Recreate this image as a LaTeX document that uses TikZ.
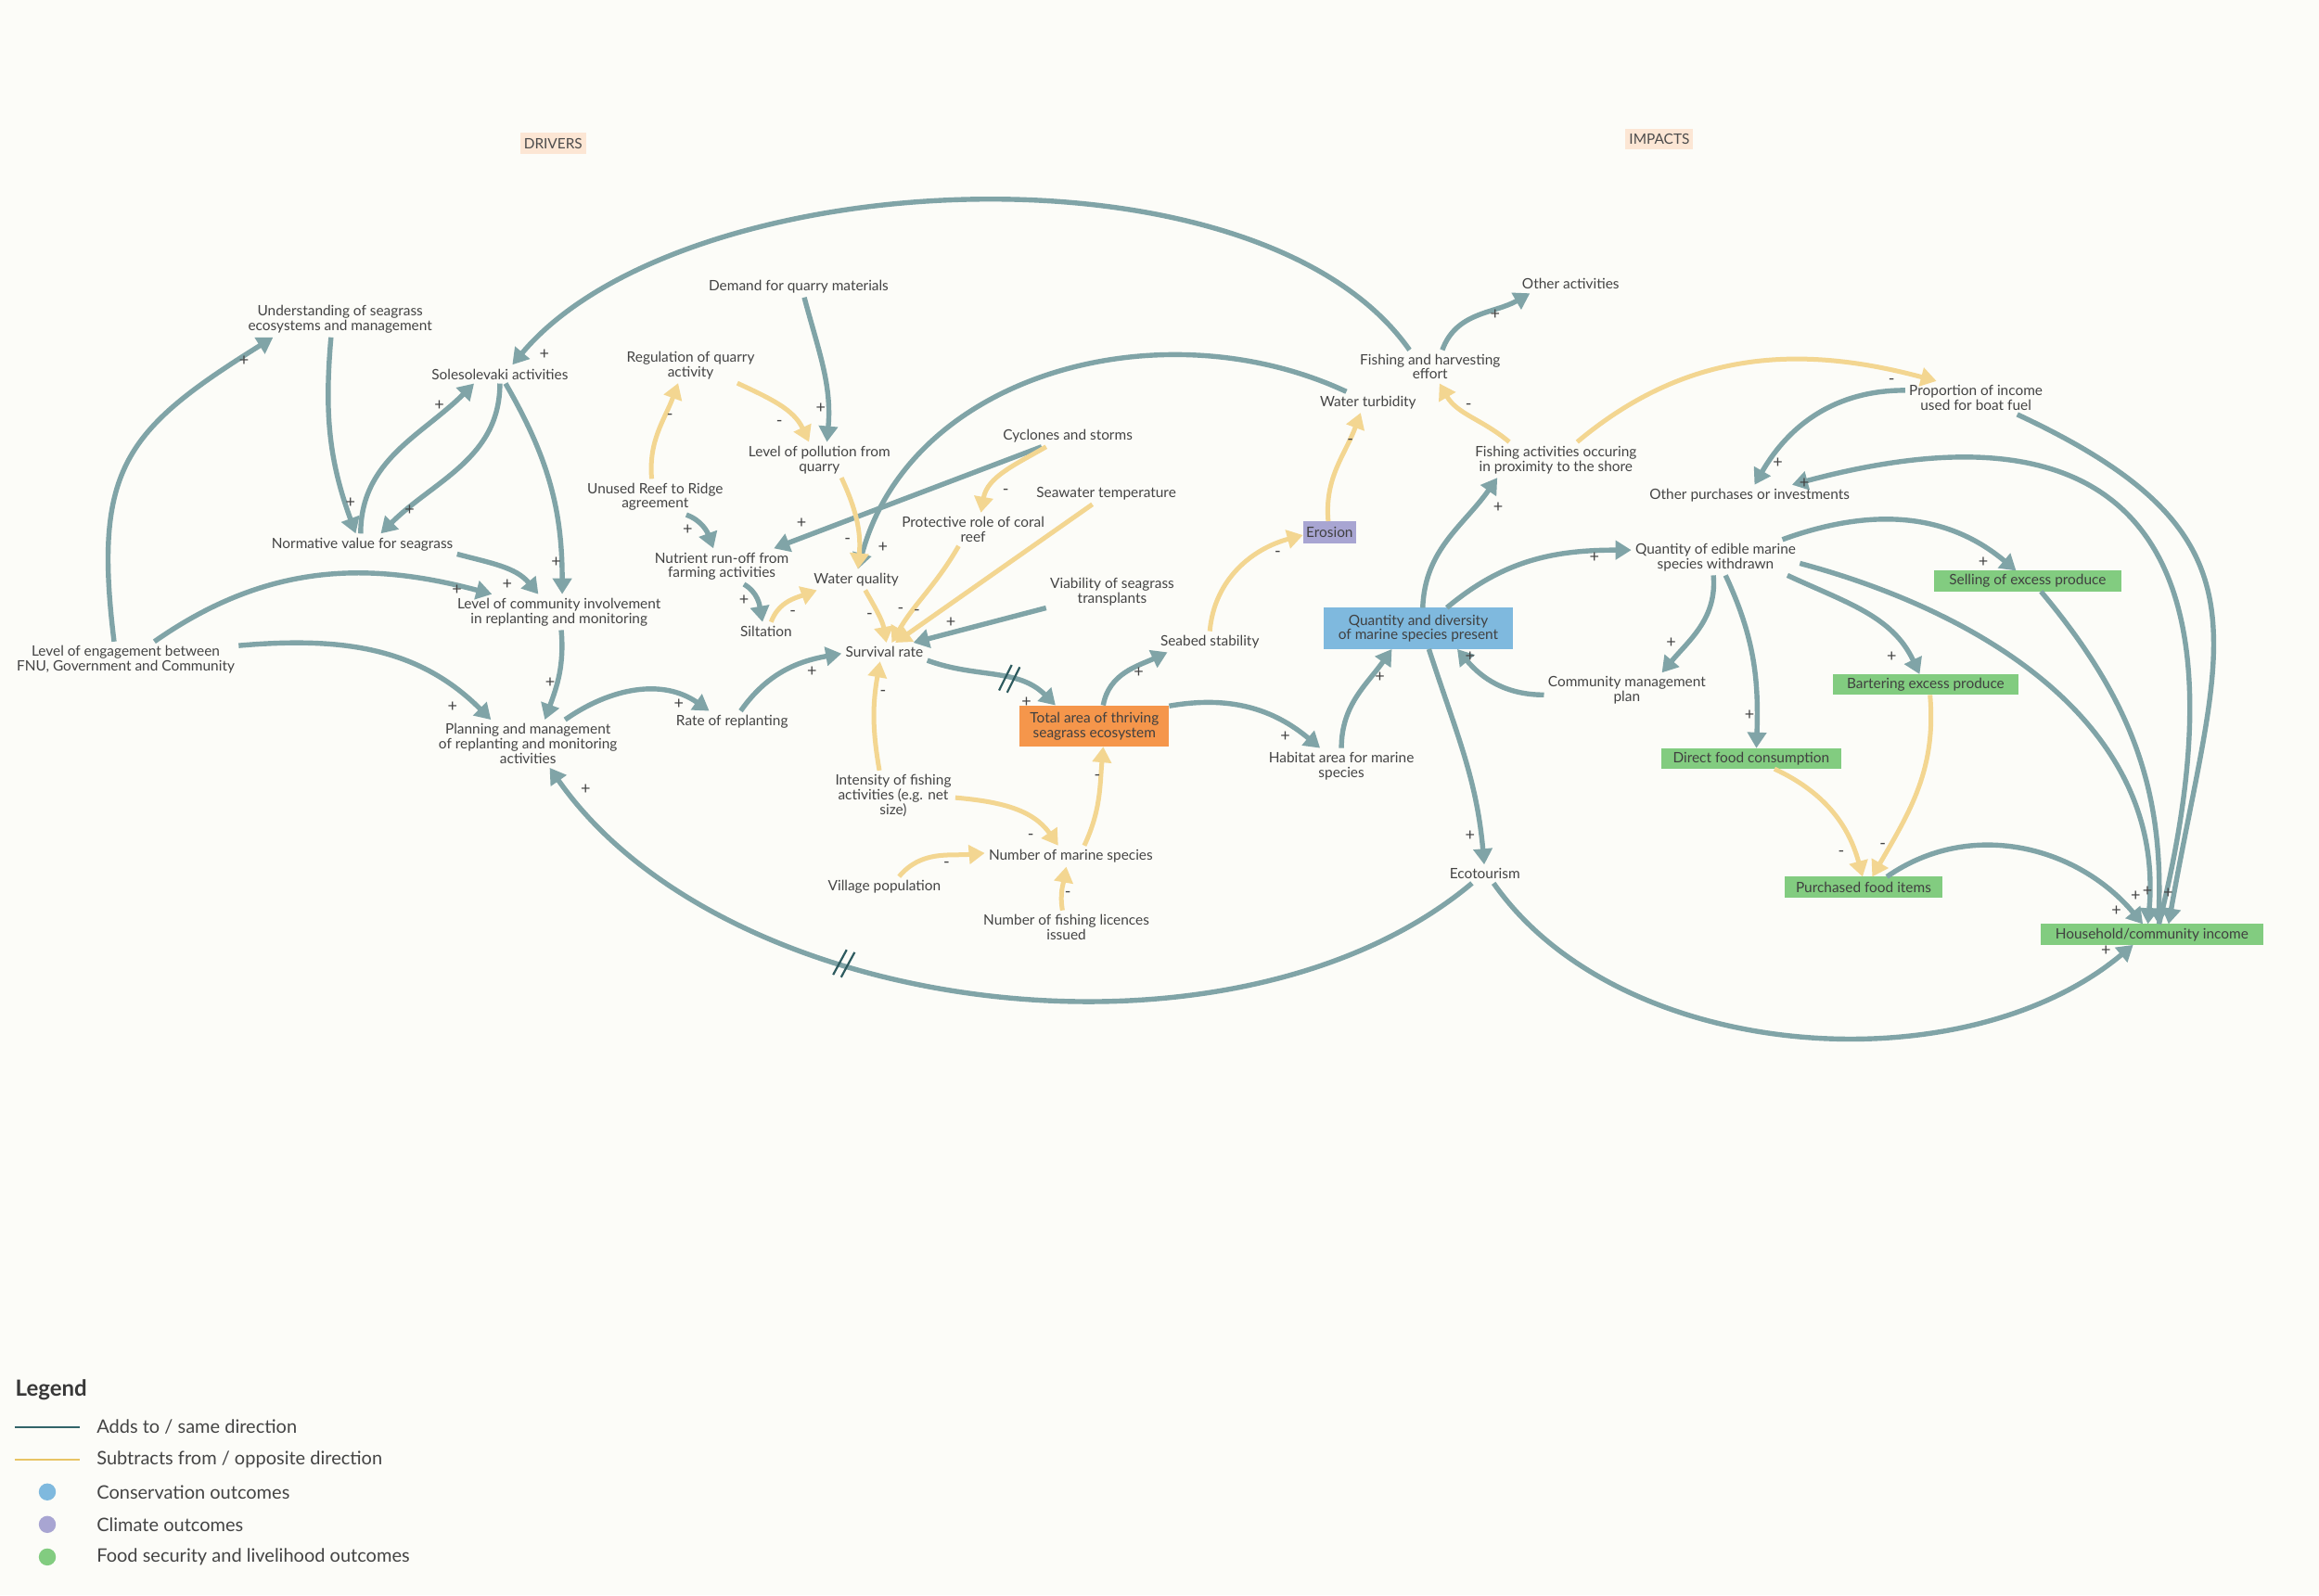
\documentclass[tikz,border=0pt]{standalone}
\usepackage{fontspec}
\setmainfont{Lato}
\usetikzlibrary{arrows.meta, decorations.markings}

\definecolor{bgcream}{RGB}{252,252,248}
\definecolor{linkteal}{RGB}{128,164,167}
\definecolor{linkyellow}{RGB}{243,214,145}
\definecolor{delayteal}{RGB}{45,90,94}
\definecolor{txtgray}{RGB}{68,68,68}
\definecolor{consblue}{RGB}{127,185,222}
\definecolor{climpurple}{RGB}{168,165,210}
\definecolor{seagrassorange}{RGB}{245,150,75}
\definecolor{foodgreen}{RGB}{130,204,128}
\definecolor{tagpeach}{RGB}{252,230,212}
\definecolor{legteal}{RGB}{50,100,105}
\definecolor{legyellow}{RGB}{232,196,100}

\begin{document}
\begin{tikzpicture}[
		x=0.797pt, y=0.797pt,
		font=\fontsize{7.7}{7.9}\selectfont,
		% Style for the plain variables of the loop diagram
		var/.style={align=center, text=txtgray, inner sep=2pt},
		% Styles for the coloured outcome boxes
		boxed/.style={align=center, text=black!75, inner sep=0pt, outer sep=0pt},
		seagrass/.style={boxed, fill=seagrassorange, minimum width=80.5pt, minimum height=22.3pt},
		conservation/.style={boxed, fill=consblue, minimum width=102pt, minimum height=22.3pt},
		climate/.style={boxed, fill=climpurple, minimum width=28.7pt, minimum height=12pt},
		food/.style={boxed, fill=foodgreen, minimum height=11.2pt},
		tag/.style={boxed, fill=tagpeach, text=black!70, minimum height=11.2pt, inner xsep=2pt},
		% Styles for the links
		addlink/.style={draw=linkteal, line width=2.7pt, -{Triangle[length=8.5pt,width=10pt]}},
		sublink/.style={draw=linkyellow, line width=2.5pt, -{Triangle[length=8.5pt,width=10pt]}},
		delay/.style={postaction={decorate, decoration={markings, mark=at position #1 with {
			\draw[-, delayteal, line width=1.1pt] (-3pt,-7.5pt) -- (0pt,7.5pt) (1.5pt,-7.5pt) -- (4.5pt,7.5pt);}}}},
		sgn/.style={text=txtgray, font=\fontsize{9}{9}\selectfont, inner sep=0pt},
		legtext/.style={anchor=west, text=txtgray, font=\fontsize{10}{10}\selectfont}
		]
		
		\path[use as bounding box, fill=bgcream] (0,0) rectangle (1568,-1079);
		
		% --- 1. DRIVERS ---
		\node[tag] (drivers) at (374,-97) {DRIVERS};
		\node[var] (und) at (230,-216) {Understanding of seagrass\\ecosystems and management};
		\node[var] (sole) at (338,-253) {Solesolevaki activities};
		\node[var] (norm) at (245,-368) {Normative value for seagrass};
		\node[var] (inv) at (378,-414) {Level of community involvement\\in replanting and monitoring};
		\node[var] (eng) at (85,-446) {Level of engagement between\\FNU, Government and Community};
		\node[var] (plan) at (357,-503) {Planning and management\\of replanting and monitoring\\activities};
		\node[var] (rate) at (495,-488) {Rate of replanting};
		\node[var] (reg) at (467,-247) {Regulation of quarry\\activity};
		\node[var] (dem) at (540,-194) {Demand for quarry materials};
		\node[var] (poll) at (554,-311) {Level of pollution from\\quarry};
		\node[var] (unused) at (443,-336) {Unused Reef to Ridge\\agreement};
		\node[var] (nut) at (488,-383) {Nutrient run-off from\\farming activities};
		\node[var] (silt) at (518,-427) {Siltation};
		\node[var] (wq) at (579,-392) {Water quality};
		\node[var] (surv) at (598,-441) {Survival rate};
		\node[var] (cyc) at (722,-295) {Cyclones and storms};
		\node[var] (prot) at (658,-358) {Protective role of coral\\reef};
		\node[var] (sea) at (748,-334) {Seawater temperature};
		\node[var] (via) at (752,-400) {Viability of seagrass\\transplants};
		\node[var] (intens) at (604,-538) {Intensity of fishing\\activities (e.g. net\\size)};
		\node[var] (nms) at (724,-579) {Number of marine species};
		\node[var] (vill) at (598,-600) {Village population};
		\node[var] (lic) at (721,-627) {Number of fishing licences\\issued};
		\node[seagrass] (total) at (740,-491) {Total area of thriving\\seagrass ecosystem};
		
		% --- 2. IMPACTS ---
		\node[tag] (impacts) at (1122,-94) {IMPACTS};
		\node[var] (seabed) at (818,-434) {Seabed stability};
		\node[climate] (eros) at (899,-360) {Erosion};
		\node[var] (turb) at (925,-272) {Water turbidity};
		\node[var] (effort) at (967,-248) {Fishing and harvesting\\effort};
		\node[var] (other) at (1062,-192) {Other activities};
		\node[var] (shore) at (1052,-311) {Fishing activities occuring\\in proximity to the shore};
		\node[conservation] (qdiv) at (959,-425) {Quantity and diversity\\of marine species present};
		\node[var] (hab) at (907,-518) {Habitat area for marine\\species};
		\node[var] (eco) at (1004,-591) {Ecotourism};
		\node[var] (cmp) at (1100,-467) {Community management\\plan};
		\node[var] (qedib) at (1160,-377) {Quantity of edible marine\\species withdrawn};
		\node[var] (opur) at (1183,-335) {Other purchases or investments};
		\node[var] (prop) at (1336,-269) {Proportion of income\\used for boat fuel};
		\node[food, minimum width=101.2pt] (sell) at (1371,-393) {Selling of excess produce};
		\node[food, minimum width=99.6pt] (bart) at (1302,-463) {Bartering excess produce};
		\node[food, minimum width=97.2pt] (direct) at (1184,-513) {Direct food consumption};
		\node[food, minimum width=85.3pt] (purch) at (1260,-600) {Purchased food items};
		\node[food, minimum width=120.3pt] (house) at (1455,-632) {Household/community income};
		
		% --- 3. LINKS: adds to / same direction ---
		\draw[addlink] (eng.123) to[out=97,in=212,looseness=1.3] (und.195);
		\draw[addlink] (eng.32) to[out=35,in=165] (inv.165);
		\draw[addlink] (eng.7) to[out=5,in=135] (plan.147);
		\draw[addlink] (und.243) to[out=265,in=110] (norm.122);
		\draw[addlink] (norm.99) to[out=90,in=225] (sole.200);
		\draw[addlink] (sole.270) to[out=270,in=45] (norm.30);
		\draw[addlink] (sole.301) to[out=-60,in=90] (inv.80);
		\draw[addlink] (norm.-6) to[out=-15,in=130] (inv.139);
		\draw[addlink] (inv.277) to[out=-85,in=70] (plan.55);
		\draw[addlink] (effort.141) to[out=125,in=50,looseness=.75] (sole.37);
		\draw[addlink] (plan.33) to[out=35,in=145] (rate.155);
		\draw[addlink] (rate.51) to[out=55,in=190] (surv.182);
		\draw[addlink] (dem.298) to[out=-75,in=85] (poll.67);
		\draw[addlink] (unused.330) to[out=-20,in=110] (nut.115);
		\draw[addlink] (cyc.202) -- (nut.19);
		\draw[addlink] (turb.154) to[out=155,in=75] (wq.81);
		\draw[addlink] (nut.321) to[out=-30,in=100] (silt.111);
		\draw[addlink] (via.194) -- (surv.18);
		\draw[addlink, delay=.6] (surv.349) to[out=-20,in=135] (total.152);
		\draw[addlink] (total.67) to[out=80,in=205] (seabed.194);
		\draw[addlink] (total.15) to[out=10,in=140] (hab.140);
		\draw[addlink] (hab.90) to[out=90,in=235] (qdiv.218);
		\draw[addlink] (qdiv.78) to[out=88,in=235] (shore.197);
		\draw[addlink] (effort.54) to[out=70,in=210] (other.193);
		\draw[addlink] (prop.174) to[out=180,in=60] (opur.65);
		\draw[addlink] (house.56) to[out=76,in=15,looseness=1.65] (opur.14);
		\draw[addlink] (prop.338) to[out=-25,in=80,looseness=1.4] (house.32);
		\draw[addlink] (qdiv.36) to[out=40,in=180] (qedib.175);
		\draw[addlink] (qdiv.297) to[out=-72,in=95] (eco.94);
		\draw[addlink] (cmp.183) to[out=180,in=310] (qdiv.332);
		\draw[addlink] (qedib.263) to[out=-85,in=50] (cmp.27);
		\draw[addlink] (qedib.299) to[out=-65,in=88] (direct.63);
		\draw[addlink] (qedib.15) to[out=20,in=140] (sell.138);
		\draw[addlink] (qedib.-14) to[out=-25,in=115] (bart.120);
		\draw[addlink] (qedib.-4) to[out=-15,in=85] (house.111);
		\draw[addlink] (sell.322) to[out=-50,in=88] (house.58);
		\draw[addlink] (purch.24) to[out=35,in=130] (house.131);
		\draw[addlink] (eco.313) to[out=-55,in=220,looseness=.88] (house.209);
		\draw[addlink, delay=.645] (eco.216) to[out=220,in=-55,looseness=.85] (plan.312);
		
		% --- 4. LINKS: subtracts from / opposite direction ---
		\draw[sublink] (reg.339) to[out=-25,in=115] (poll.120);
		\draw[sublink] (unused.101) to[out=95,in=250] (reg.235);
		\draw[sublink] (cyc.206) to[out=210,in=80] (prot.65);
		\draw[sublink] (poll.321) to[out=-65,in=85] (wq.81);
		\draw[sublink] (silt.62) to[out=70,in=200] (wq.195);
		\draw[sublink] (wq.310) to[out=-60,in=100] (surv.78);
		\draw[sublink] (prot.229) to[out=240,in=60] (surv.52);
		\draw[sublink] (sea.217) -- (surv.41);
		\draw[sublink] (intens.119) to[out=100,in=260] (surv.245);
		\draw[sublink] (intens.-2) to[out=-5,in=125] (nms.140);
		\draw[sublink] (vill.36) to[out=50,in=185] (nms.178);
		\draw[sublink] (lic.103) to[out=100,in=260] (nms.247);
		\draw[sublink] (nms.38) to[out=65,in=265] (total.293);
		\draw[sublink] (seabed.90) to[out=85,in=195] (eros.186);
		\draw[sublink] (eros.97) to[out=95,in=250] (turb.235);
		\draw[sublink] (shore.159) to[out=140,in=300] (effort.299);
		\draw[sublink] (shore.40) to[out=40,in=165] (prop.157);
		\draw[sublink] (direct.336) to[out=-25,in=105] (purch.95);
		\draw[sublink] (bart.293) to[out=-85,in=60] (purch.50);
		
		% --- 5. POLARITY SIGNS ---
		\foreach \sx/\sy/\sv [count=\i] in {
			165/244/+, 237/340/+, 297/274/+, 277/345/+, 368/240/+, 376/380/+,
			343/395/+, 309/399/+, 372/462/+, 306/478/+, 459/476/+, 549/454/+,
			396/534/+, 453/282/-, 527/286/-, 555/276/+, 465/358/+, 542/354/+,
			680/333/-, 597/370/+, 573/366/-, 503/406/+, 536/415/-, 588/417/-,
			609/413/-, 620/414/-, 643/421/+, 597/469/-, 694/475/+, 697/566/-,
			640/585/-, 722/605/-, 742/526/-, 770/455/+, 869/498/+, 864/375/-,
			913/299/-, 933/458/+, 1013/343/+, 993/275/-, 1011/213/+, 1279/258/-,
			1202/313/+, 1220/327/+, 1078/377/+, 994/565/+, 994/444/+, 1130/435/+,
			1183/484/+, 1341/380/+, 1279/444/+, 1245/577/-, 1273/572/-, 1431/616/+,
			1444/606/+, 1452/603/+, 1466/604/+, 1424/643/+}
			\node[sgn] (sign\i) at (\sx,-\sy) {\sv};
		
		% --- 6. LEGEND ---
		\node[anchor=west, text=black!78, font=\fontsize{12}{12}\selectfont\bfseries] (legend) at (6,-940) {Legend};
		\draw[legteal, line width=1pt] (10,-965) -- (54,-965);
		\draw[legyellow, line width=1pt] (10,-987) -- (54,-987);
		\fill[consblue] (32,-1009) circle (4.6pt);
		\fill[climpurple] (32,-1031) circle (4.6pt);
		\fill[foodgreen] (32,-1053) circle (4.6pt);
		\node[legtext] (lgadd) at (61,-965) {Adds to / same direction};
		\node[legtext] (lgsub) at (61,-987) {Subtracts from / opposite direction};
		\node[legtext] (lgcons) at (61,-1009) {Conservation outcomes};
		\node[legtext] (lgclim) at (61,-1031) {Climate outcomes};
		\node[legtext] (lgfood) at (61,-1053) {Food security and livelihood outcomes};
		
	\end{tikzpicture}
\end{document}
